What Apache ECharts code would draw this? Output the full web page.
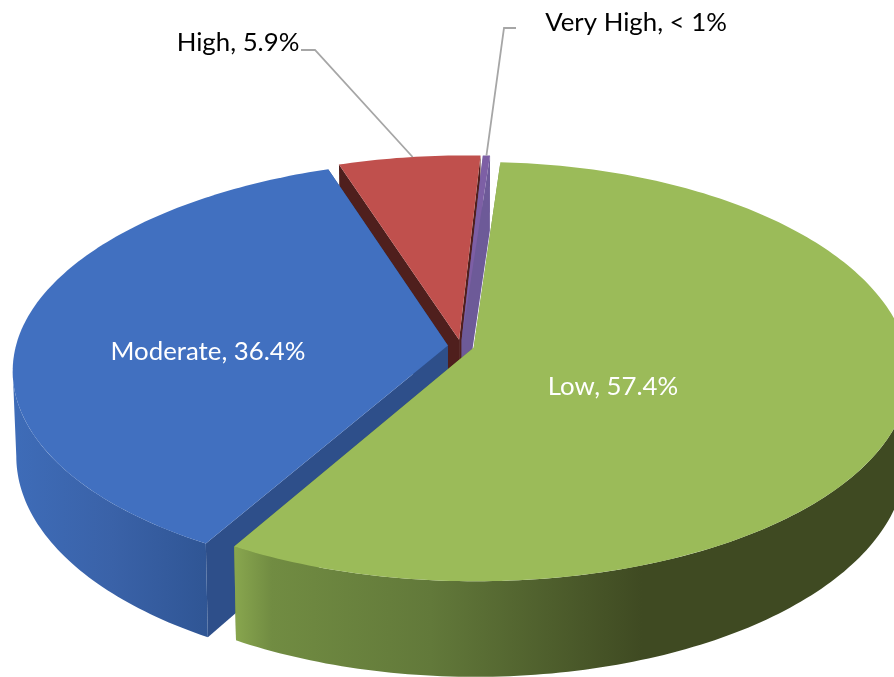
<!DOCTYPE html>
<html>
<head>
<meta charset="utf-8">
<title>Risk level pie</title>
<style>
  html, body { margin: 0; padding: 0; background: #fff; }
  #chart { width: 894px; height: 677px; }
</style>
</head>
<body>
<div id="chart"></div>
<script src="https://cdn.jsdelivr.net/npm/echarts@6/dist/echarts.min.js"></script>
<script>
/* ---------- data ---------- */
const categories = ['Low', 'Moderate', 'High', 'Very High']
const values = [57.4, 36.4, 5.9, 0.3]
const valueLabels = ['57.4%', '36.4%', '5.9%', '< 1%']

/* ---------- look of each slice, same order as categories ---------- */
const topColors = ['#9bbb59', '#4170c0', '#c0504d', '#7d5fa5']
const cutColors = ['#6f8a40', '#2e4f8a', '#4f1f1d', '#6d5a98']
const wallStops = [
  [[0, '#8aa84f'], [0.06, '#718c42'], [0.3, '#62793a'], [0.62, '#3f4a22'], [1, '#3f4a22']],
  [[0, '#3e6cb8'], [0.5, '#3a62a8'], [1, '#2f5594']],
  [[0, '#8c3a38'], [1, '#8c3a38']],
  [[0, '#5f4a80'], [1, '#5f4a80']]
]
const wallRange = [[232, 894], [14, 210], [330, 490], [480, 490]]
// back to front, the exploded pie hides itself in this order
const paintOrder = [2, 3, 1, 0]

/* ---------- tilted disc ---------- */
const center = [461, 346]
const radiusX = 432
const radiusY = 205
const thickness = 84
const perspective = 0.12
const bottomShrink = 0.008
const explode = 0.0305
const startAngle = 3.3
const backShift = 6
const backLift = 2.5
// only this part of the rim faces the viewer
const wallFrom = 88
const wallTo = 263

const labelStyle = [
  { x: 613, y: 387, color: '#fff' },
  { x: 208, y: 352, color: '#fff' },
  { x: 238, y: 43, color: '#000' },
  { x: 636, y: 23, color: '#000' }
]
// elbow and end of the leader lines, slices 2 and 3 only
const leaders = {
  2: [[315, 50], [301, 50]],
  3: [[504, 28], [516, 28]]
}

const total = values.reduce((a, b) => a + b, 0)
const spans = []
values.reduce((from, v) => {
  const to = from + (v / total) * 360
  spans.push([from, to])
  return to
}, startAngle)

/** disc coordinates to the screen, h = 0 top face, h = 1 bottom face */
function project(u, v, h) {
  const s = 1 / (1 - perspective * v)
  const back = v < 0 ? v * v : 0
  return [
    center[0] + radiusX * u * s * (1 - bottomShrink * h) + backShift * back,
    center[1] + radiusY * v * s + thickness * h * s - backLift * back
  ]
}

function rimPoint(idx, deg, h, r) {
  const mid = ((spans[idx][0] + spans[idx][1]) / 2) * Math.PI / 180
  const a = deg * Math.PI / 180
  const rr = r === undefined ? 1 : r
  return project(
    explode * Math.sin(mid) + rr * Math.sin(a),
    -explode * Math.cos(mid) - rr * Math.cos(a),
    h
  )
}

function arcPoints(idx, h, from, to) {
  const steps = Math.max(2, Math.ceil(to - from))
  const pts = []
  for (let i = 0; i <= steps; i++) {
    pts.push(rimPoint(idx, from + ((to - from) * i) / steps, h))
  }
  return pts
}

function polygon(points, fill) {
  return { type: 'polygon', shape: { points }, style: { fill } }
}

function renderSlice(idx) {
  const [from, to] = spans[idx]
  const apexTop = rimPoint(idx, from, 0, 0)
  const apexBottom = rimPoint(idx, from, 1, 0)
  const children = []

  const cut = (deg) => polygon(
    [apexTop, rimPoint(idx, deg, 0), rimPoint(idx, deg, 1), apexBottom],
    cutColors[idx]
  )
  children.push(cut(from), cut(to))

  const wallA = Math.max(from, wallFrom)
  const wallB = Math.min(to, wallTo)
  if (wallB > wallA) {
    const outer = arcPoints(idx, 0, wallA, wallB).concat(arcPoints(idx, 1, wallA, wallB).reverse())
    children.push(polygon(outer, new echarts.graphic.LinearGradient(
      wallRange[idx][0], 0, wallRange[idx][1], 0,
      wallStops[idx].map(([offset, color]) => ({ offset, color })),
      true
    )))
  }

  children.push(polygon([apexTop].concat(arcPoints(idx, 0, from, to)), topColors[idx]))

  if (leaders[idx]) {
    const start = rimPoint(idx, (from + to) / 2 + (idx === 2 ? 0.5 : 0), 0)
    children.push({
      type: 'polyline',
      shape: { points: [start].concat(leaders[idx]) },
      style: { fill: null, stroke: '#a6a6a6', lineWidth: 1.8 }
    })
  }

  children.push({
    type: 'text',
    style: {
      x: labelStyle[idx].x,
      y: labelStyle[idx].y,
      text: categories[idx] + ', ' + valueLabels[idx],
      fill: labelStyle[idx].color,
      font: '25.8px Lato',
      align: 'center',
      verticalAlign: 'middle'
    }
  })
  return { type: 'group', children }
}

const chart = echarts.init(document.getElementById('chart'), null, { renderer: 'canvas' })
chart.setOption({
  animation: false,
  backgroundColor: '#fff',
  series: paintOrder.map((idx, order) => ({
    type: 'custom',
    name: categories[idx],
    coordinateSystem: 'none',
    z: order + 1,
    silent: true,
    data: [values[idx]],
    renderItem: () => renderSlice(idx)
  }))
})
</script>
</body>
</html>
